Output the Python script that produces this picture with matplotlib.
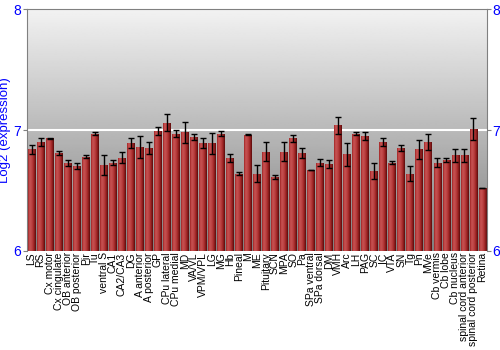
import matplotlib
matplotlib.use("Agg")
import matplotlib.pyplot as plt
import numpy as np

# tissue names and log2 expression (mean, error)
tissues = ["LS", "RS", "Cx motor", "Cx cingulate", "OB anterior", "OB posterior",
           "Pir", "Tu", "ventral S", "CA1", "CA2/CA3", "DG", "A anterior",
           "A posterior", "GP", "CPu lateral", "CPu medial", "MD", "VA/VL",
           "VPM/VPL", "LG", "MG", "Hb", "Pineal", "M", "ME", "Pituitary", "SCN",
           "MPA", "SO", "Pa", "SPa ventral", "SPa dorsal", "DM", "VMH", "Arc",
           "LH", "PAG", "SC", "IC", "VTA", "SN", "Tg", "Pn", "MVe", "Cb vermis",
           "Cb lobe", "Cb nucleus", "spinal cord anterior",
           "spinal cord posterior", "Retina"]
values = [6.84, 6.90, 6.93, 6.81, 6.73, 6.70, 6.78, 6.97, 6.71, 6.73, 6.77,
          6.89, 6.86, 6.85, 6.99, 7.06, 6.97, 6.98, 6.94, 6.89, 6.89, 6.97,
          6.77, 6.64, 6.96, 6.64, 6.82, 6.61, 6.82, 6.93, 6.81, 6.67, 6.73,
          6.72, 7.04, 6.80, 6.97, 6.95, 6.66, 6.90, 6.73, 6.85, 6.64, 6.84,
          6.90, 6.73, 6.75, 6.79, 6.79, 7.01, 6.52]
errors = [0.04, 0.035, 0.004, 0.02, 0.025, 0.025, 0.015, 0.012, 0.08, 0.02,
          0.045, 0.04, 0.09, 0.05, 0.035, 0.07, 0.03, 0.09, 0.025, 0.04, 0.085,
          0.02, 0.035, 0.01, 0.005, 0.07, 0.08, 0.015, 0.08, 0.03, 0.045,
          0.003, 0.03, 0.035, 0.07, 0.095, 0.01, 0.035, 0.065, 0.03, 0.01,
          0.025, 0.06, 0.08, 0.065, 0.035, 0.015, 0.055, 0.055, 0.09, 0.003]
yticks = [6, 7, 8]

fig = plt.figure(figsize=(5, 3.5), dpi=100)
ax = fig.add_axes([0.054, 0.283, 0.92, 0.691])

x = np.arange(len(tissues))
ax.set_xlim(-0.5, len(tissues) - 0.5)
ax.set_ylim(6, 8)

# grey vertical gradient behind the bars
grad = np.linspace(0.95, 0.50, 256).reshape(-1, 1)
ax.imshow(grad, cmap="gray", vmin=0, vmax=1, aspect="auto",
          extent=(-0.5, len(tissues) - 0.5, 6, 8), origin="upper", zorder=0)
ax.axhline(7, color="white", lw=1.5, zorder=1)

bars = ax.bar(x, np.array(values) - 6, bottom=6, width=0.86,
              color="#b23535", zorder=2)

# horizontal shading inside each bar (light left, dark right)
bar_cmap = matplotlib.colors.LinearSegmentedColormap.from_list(
    "barred", ["#5e0c0c", "#a52a2a", "#c65050"])
shade = np.array([[0.55, 0.75, 0.78, 0.72, 0.62, 0.5, 0.38, 0.25]])
for b in bars:
    x0, y0 = b.get_x(), b.get_y()
    im = ax.imshow(shade, cmap=bar_cmap, vmin=0.2, vmax=0.8, aspect="auto",
                   extent=(x0, x0 + b.get_width(), y0, y0 + b.get_height()),
                   zorder=2.5)
    im.set_clip_path(b)

ax.errorbar(x, values, yerr=errors, fmt="none", ecolor="black",
            elinewidth=1, capsize=2, capthick=1, zorder=3)

ax.set_xticks(x)
ax.set_xticklabels(tissues, rotation=90, fontsize=7.5, family="Liberation Sans")
ax.tick_params(axis="x", length=0, pad=1)
ax.set_yticks(yticks)
ax.set_yticklabels([str(t) for t in yticks])
ax.tick_params(axis="y", colors="#808080", labelcolor="blue", labelsize=10,
               length=3, right=True, labelright=True, pad=1)
for lab in ax.get_yticklabels():
    lab.set_family("Liberation Sans")

for s in ["left", "right", "top"]:
    ax.spines[s].set_color("#808080")
ax.spines["bottom"].set_visible(False)

ax.set_ylabel("Log2 (expression)", color="blue", fontsize=9.5,
              family="Liberation Sans", labelpad=2)

fig.savefig("out.png", dpi=100)
